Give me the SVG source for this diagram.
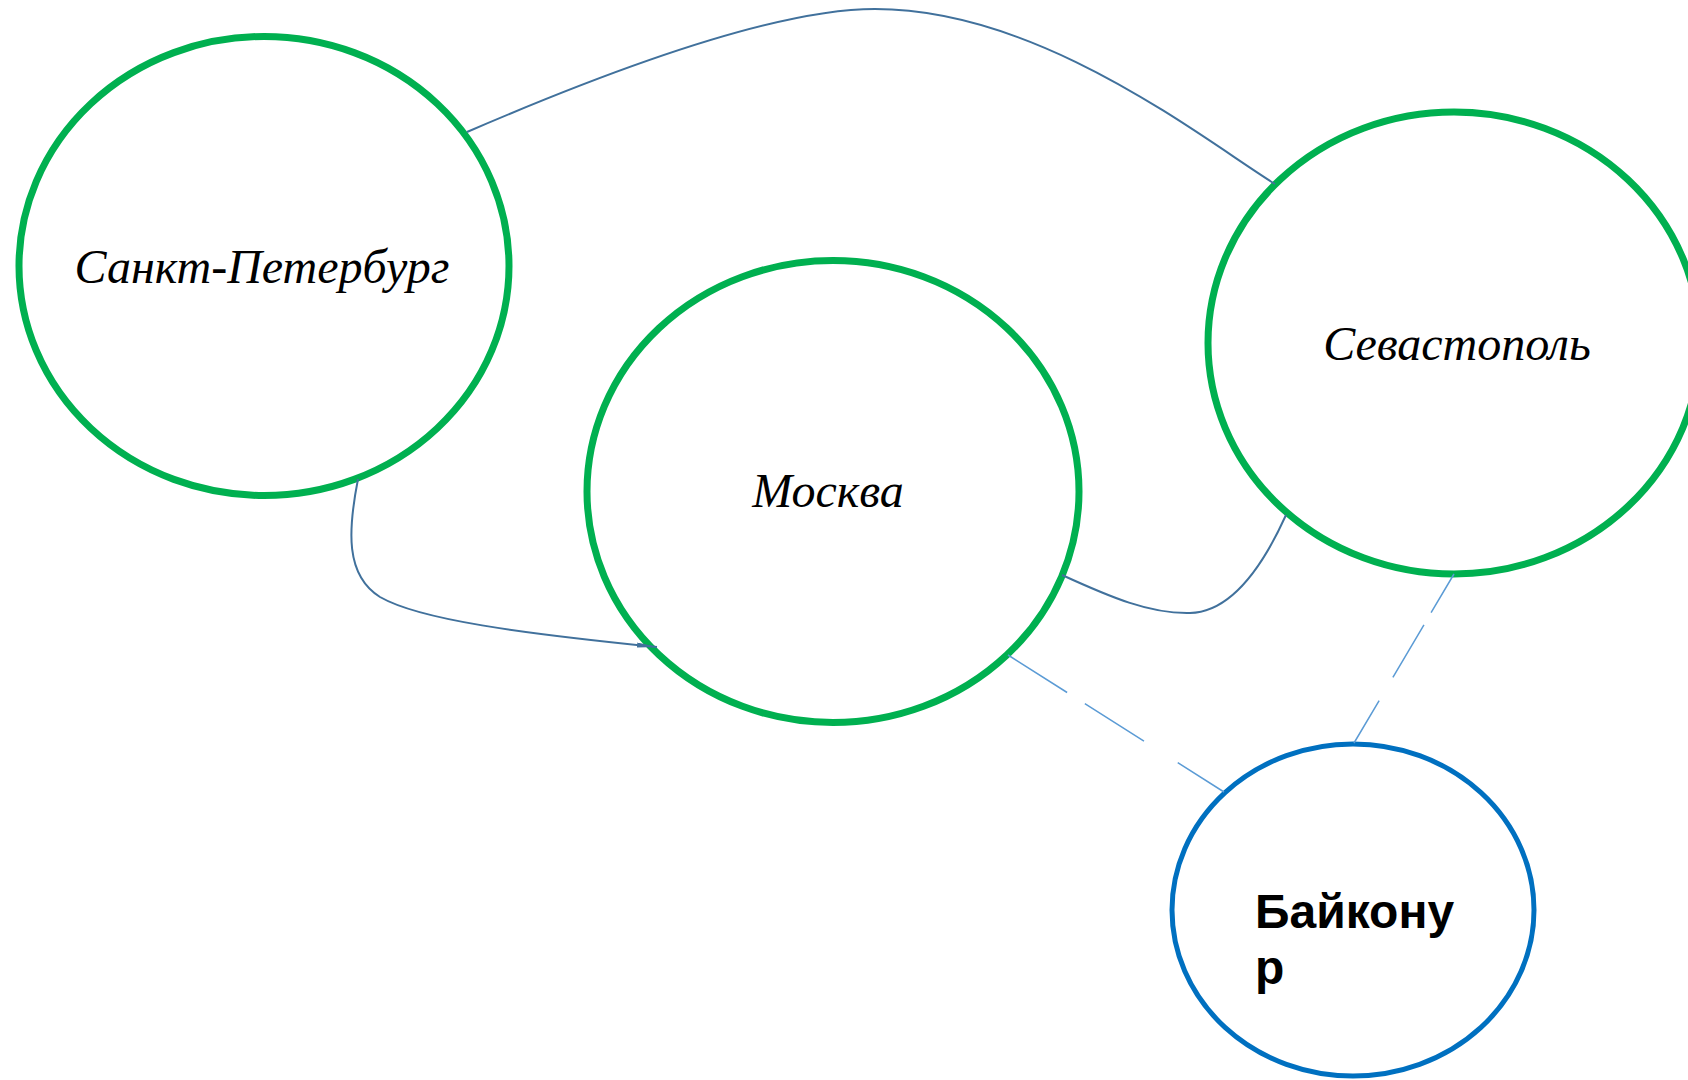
<svg xmlns="http://www.w3.org/2000/svg" width="1688" height="1080" viewBox="0 0 1688 1080">
<style>
.city{fill:#fff;stroke:#00B050;stroke-width:7}
.base{fill:#fff;stroke:#0070C0;stroke-width:5}
.lbl{font-family:"Liberation Serif","Times New Roman",serif;font-style:italic;font-size:48px;fill:#000;text-anchor:middle}
.bold{font-family:"Liberation Sans",Arial,sans-serif;font-weight:bold;font-size:48px;fill:#000}
.link{fill:none;stroke:#41719C;stroke-width:2}
.dash{fill:none;stroke:#5B9BD5;stroke-width:1.5}
</style>
<defs>
<marker id="arr" viewBox="0 0 20 5" refX="20" refY="2.5" markerWidth="10" markerHeight="2.5" orient="auto" markerUnits="strokeWidth">
<path d="M0,0 L20,2.5 L0,5 z" fill="#41719C"/>
</marker>
</defs>
<rect width="1688" height="1080" fill="#fff"/>
<g id="node-spb">
<ellipse class="city" cx="264" cy="266" rx="245" ry="229.5"/>
<text class="lbl" x="262" y="283">Санкт-Петербург</text>
</g>
<g id="node-moscow">
<ellipse class="city" cx="833" cy="491.5" rx="246" ry="231"/>
<text class="lbl" x="828" y="507">Москва</text>
</g>
<g id="node-sevastopol">
<ellipse class="city" cx="1454" cy="343" rx="246" ry="231"/>
<text class="lbl" x="1457" y="360">Севастополь</text>
</g>
<g id="node-baikonur">
<ellipse class="base" cx="1353" cy="910" rx="181" ry="166"/>
<text class="bold" x="1255" y="928">Байкону</text>
<text class="bold" x="1255" y="984">р</text>
</g>
<g id="connectors">
<path class="link" d="M467,132 C620,66 780,9 875,9 C1040,9 1200,137 1275,184"/>
<path class="link" d="M358,479 C348,530 345,575 380,597 C420,620 520,633 657,647" marker-end="url(#arr)"/>
<path class="link" d="M1062,575 C1110,597 1150,614 1190,613 C1230,612 1262,568 1286,515"/>
<path class="dash" d="M1008,655 L1224,792" stroke-dasharray="70 21 70 40 60 0"/>
<path class="dash" d="M1454,574 L1354,743" stroke-dasharray="45 14 61 27 50 0"/>
</g>
</svg>
